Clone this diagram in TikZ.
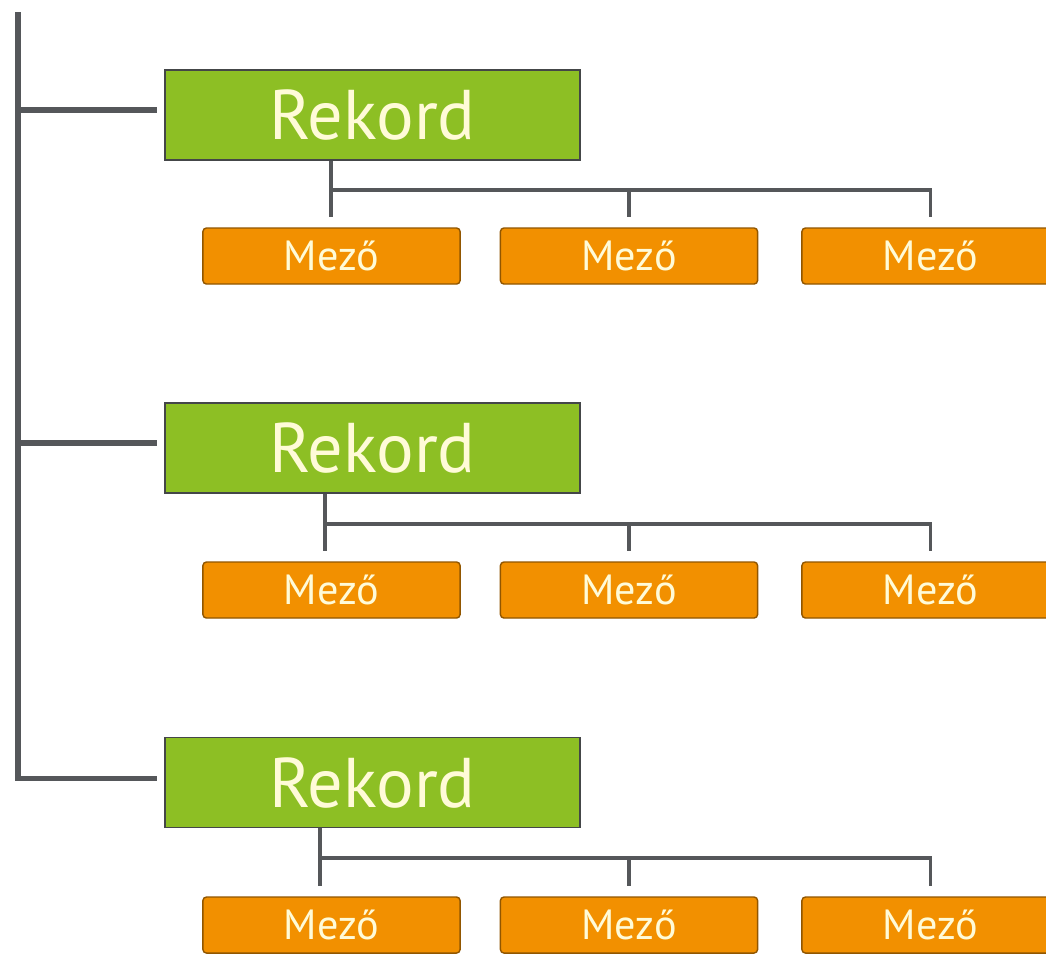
\documentclass[tikz,border=0pt]{standalone}
\usepackage{fontspec}
\setmainfont{PT Sans}
\definecolor{rekordgreen}{HTML}{8DBF24}
\definecolor{mezoorange}{HTML}{F29000}
\definecolor{linegray}{HTML}{55575A}
\definecolor{textcream}{HTML}{FFFBD8}
\tikzset{
  rekord/.style={rectangle, draw=linegray!80!black, fill=rekordgreen, text=textcream,
    minimum width=4.15cm, minimum height=0.9cm, font=\fontsize{20}{20}\selectfont},
  mezo/.style={rectangle, rounded corners=1pt, draw=mezoorange!60!black, fill=mezoorange, text=textcream,
    minimum width=2.57cm, minimum height=0.56cm, font=\fontsize{12}{12}\selectfont},
  trunk/.style={draw=linegray, line width=1.6pt},
  link/.style={draw=linegray, line width=1.1pt}
}
\begin{document}
\begin{tikzpicture}[x=0.01cm, y=-0.01cm]
                \useasboundingbox[fill=white] (0,0) rectangle (1046,953);

                \node[rekord] (r1) at (372.5,115) {Rekord};
                \node[rekord] (r2) at (372.5,448) {Rekord};
                \node[rekord] (r3) at (372.5,782.5) {Rekord};

                \node[mezo] (m11) at (331.5,256) {Mező};
                \node[mezo] (m12) at (629,256) {Mező};
                \node[mezo] (m13) at (930.5,256) {Mező};
                \node[mezo] (m21) at (331.5,590) {Mező};
                \node[mezo] (m22) at (629,590) {Mező};
                \node[mezo] (m23) at (930.5,590) {Mező};
                \node[mezo] (m31) at (331.5,925) {Mező};
                \node[mezo] (m32) at (629,925) {Mező};
                \node[mezo] (m33) at (930.5,925) {Mező};

                % trunk on the left
                \coordinate (top) at (18,12);
                \draw[trunk] (top) |- ([xshift=-0.07cm, yshift=0.04cm]r3.west);
                \draw[trunk] ([yshift=0.05cm]top |- r1) -- ([xshift=-0.07cm, yshift=0.05cm]r1.west);
                \draw[trunk] ([yshift=0.05cm]top |- r2) -- ([xshift=-0.07cm, yshift=0.05cm]r2.west);

                % fields of each record
                \coordinate (k1) at (331,190);
                \draw[link] (r1.south -| k1) -- (k1) -| ([yshift=0.1cm]m13.north);
                \draw[link] (k1) -- ([yshift=0.1cm]m11.north -| k1);
                \draw[link] (k1 -| m12) -- ([yshift=0.1cm]m12.north);

                \coordinate (k2) at (325,524);
                \draw[link] (r2.south -| k2) -- (k2) -| ([yshift=0.1cm]m23.north);
                \draw[link] (k2) -- ([yshift=0.1cm]m21.north -| k2);
                \draw[link] (k2 -| m22) -- ([yshift=0.1cm]m22.north);

                \coordinate (k3) at (320,858);
                \draw[link] (r3.south -| k3) -- (k3) -| ([yshift=0.1cm]m33.north);
                \draw[link] (k3) -- ([yshift=0.1cm]m31.north -| k3);
                \draw[link] (k3 -| m32) -- ([yshift=0.1cm]m32.north);
            \end{tikzpicture}
\end{document}
